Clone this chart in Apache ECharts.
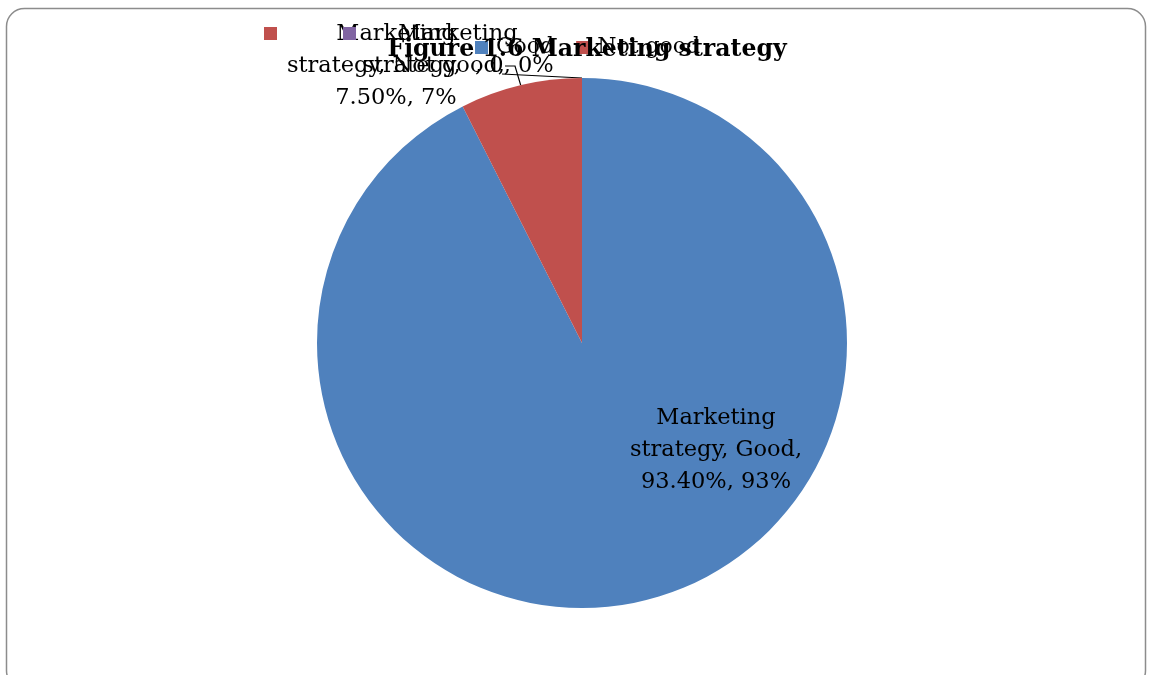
<!DOCTYPE html>
<html>
<head>
<meta charset="utf-8">
<style>
  html, body { margin: 0; padding: 0; background: #ffffff; }
  #chart { width: 1149px; height: 675px; }
</style>
<script src="https://cdn.jsdelivr.net/npm/echarts@6/dist/echarts.min.js"></script>
</head>
<body>
<div id="chart"></div>
<script>
// Survey answers on the marketing strategy
const seriesName = 'Marketing strategy';
const categories = ['Good', 'Not good', ' '];
const values = [93.4, 7.5, 0];
const sliceColors = ['#4F81BD', '#C0504D', '#8064A2'];
const titleText = 'Figure 1.6 Marketing strategy';

const FONT = 'DejaVu Serif';

function valueText(v) {
  return v === 0 ? '0' : v.toFixed(2) + '%';
}

// Label text: "series, category, value, percent" wrapped like the worksheet labels
function labelText(p) {
  const head = p.seriesName.replace(' ', '\n');
  const sep = p.value === 0 ? ' ' : '\n';
  return head + ', ' + p.name + ',' + sep + valueText(p.value) + ', ' + p.percent + '%';
}

// Where each data label sits
const labelSpots = [
  { x: 716, y: 450 },
  { x: 396, y: 66 },
  { x: 458, y: 50 }
];

const chart = echarts.init(document.getElementById('chart'), null, { renderer: 'canvas' });

const legendBase = {
  orient: 'horizontal',
  icon: 'rect',
  itemWidth: 13,
  itemHeight: 13,
  padding: 0,
  selectedMode: false,
  textStyle: { fontFamily: FONT, fontSize: 22, color: '#000', lineHeight: 26, padding: [0, 0, 0, 3] }
};

chart.setOption({
  animation: false,
  backgroundColor: '#ffffff',
  title: {
    text: titleText,
    left: 582,
    top: 33,
    textAlign: 'center',
    z: 6,
    textStyle: { fontFamily: FONT, fontWeight: 'bold', fontSize: 23.6, color: '#000' }
  },
  legend: [
    Object.assign({}, legendBase, { left: 475, top: 34.5, itemGap: 22, data: [categories[0], categories[1]] }),
    Object.assign({}, legendBase, { left: 264, top: 27, data: [categories[1]], formatter: () => '' }),
    Object.assign({}, legendBase, { left: 343, top: 27, data: [categories[2]], formatter: () => '' })
  ],
  graphic: [{
    type: 'rect',
    shape: { x: 6.5, y: 8.5, width: 1139, height: 680, r: 18 },
    style: { fill: 'none', stroke: '#8c8c8c', lineWidth: 1.5 },
    silent: true,
    z: 0
  }],
  series: [{
    name: seriesName,
    type: 'pie',
    center: [582, 343],
    radius: 265,
    startAngle: 90,
    clockwise: true,
    percentPrecision: 0,
    avoidLabelOverlap: false,
    stillShowZeroSum: true,
    itemStyle: { borderWidth: 0 },
    emphasis: { disabled: true },
    label: {
      show: true,
      position: 'outside',
      formatter: labelText,
      fontFamily: FONT,
      fontSize: 22.5,
      lineHeight: 32,
      color: '#000',
      align: 'center'
    },
    labelLine: {
      show: true,
      length: 10,
      length2: 10,
      lineStyle: { color: '#000', width: 1.2 }
    },
    labelLayout: function (params) {
      const s = labelSpots[params.dataIndex];
      const out = { x: s.x, y: s.y, align: 'center', verticalAlign: 'middle' };
      // the zero slice's guide runs flat to the left under its label
      if (params.dataIndex === 2 && params.labelLinePoints) {
        const a = params.labelLinePoints[0];
        out.labelLinePoints = [a, [a[0] - 40, a[1] - 2], [a[0] - 80, a[1] - 4]];
      }
      return out;
    },
    data: categories.map((c, i) => ({
      name: c,
      value: values[i],
      itemStyle: { color: sliceColors[i] },
      labelLine: { show: i !== 0 }
    }))
  }]
});
</script>
</body>
</html>
